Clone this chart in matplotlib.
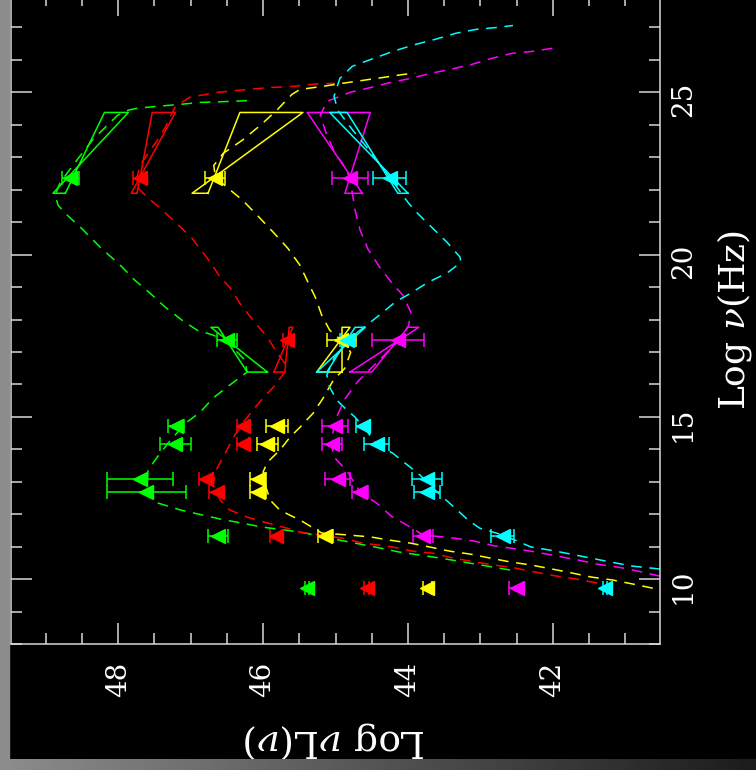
import numpy as np
import matplotlib.pyplot as plt
from matplotlib.patches import Rectangle
from matplotlib.ticker import MultipleLocator

plt.rcParams['font.family'] = 'DejaVu Serif'
plt.rcParams['mathtext.fontset'] = 'dejavuserif'

# observed points: log nu (Hz), log nuL(nu), error
obs_nu = [9.72, 11.34, 12.68, 13.08, 14.16, 14.71, 17.37, 22.37]

green_obs = [45.39, 46.62, 47.61, 47.70, 47.21, 47.20, 46.50, 48.66]
green_err = [0.03, 0.14, 0.54, 0.45, 0.21, 0.11, 0.14, 0.12]
red_obs = [44.57, 45.82, 46.64, 46.79, 46.28, 46.28, 45.67, 47.70]
red_err = [0.03, 0.08, 0.10, 0.10, 0.08, 0.08, 0.06, 0.09]
yellow_obs = [43.73, 45.14, 46.07, 46.07, 45.94, 45.81, 44.92, 46.66]
yellow_err = [0.06, 0.10, 0.11, 0.11, 0.14, 0.15, 0.20, 0.14]
magenta_obs = [42.50, 43.79, 44.66, 44.97, 45.05, 45.01, 44.14, 44.80]
magenta_err = [0.10, 0.14, 0.11, 0.17, 0.14, 0.18, 0.36, 0.25]
cyan_obs = [41.28, 42.69, 43.74, 43.74, 44.43, 44.62, 44.84, 44.25]
cyan_err = [0.03, 0.16, 0.18, 0.21, 0.17, 0.10, 0.10, 0.23]

# bow ties: [A at low nu, A at high nu, B at high nu, B at low nu]
xray_nu = [16.38, 17.76]
gamma_nu = [21.89, 24.38]
green_xray_bow = [45.94, 46.72, 46.62, 46.22]
red_xray_bow = [45.85, 45.59, 45.64, 45.70]
yellow_xray_bow = [44.91, 44.91, 44.80, 45.26]
magenta_xray_bow = [44.80, 43.85, 44.00, 44.50]
cyan_xray_bow = [45.26, 44.59, 44.73, 45.12]
green_gamma_bow = [48.73, 48.19, 47.86, 48.90]
red_gamma_bow = [47.74, 47.53, 47.21, 47.82]
yellow_gamma_bow = [46.76, 46.32, 45.45, 46.98]
magenta_gamma_bow = [44.63, 45.39, 44.52, 44.87]
cyan_gamma_bow = [44.00, 45.08, 44.84, 44.14]

# model curves
green_mod_nu = [10.28, 10.49, 10.65, 10.83, 10.96, 11.20, 11.45, 11.60, 11.85, 12.13, 12.37,
                12.80, 13.36, 13.76, 14.28, 14.84, 15.14, 15.58, 15.98, 16.38, 16.75, 17.27,
                17.52, 17.67, 17.98, 18.38, 18.81, 19.21, 19.67, 20.23, 20.84, 21.27, 21.52,
                21.83, 22.23, 22.97, 23.52, 23.92, 24.29, 24.45, 24.51, 24.57, 24.63, 24.69,
                24.72, 24.75]
green_mod_L = [42.59, 43.14, 43.56, 44.11, 44.39, 44.94, 45.49, 46.00, 46.59, 47.14, 47.49,
               47.60, 47.59, 47.46, 47.28, 47.05, 46.87, 46.69, 46.46, 46.22, 46.25, 46.48,
               46.69, 46.91, 47.12, 47.35, 47.56, 47.77, 47.97, 48.25, 48.52, 48.73, 48.83,
               48.87, 48.80, 48.55, 48.36, 48.18, 48.01, 47.86, 47.74, 47.46, 47.14, 46.87,
               46.46, 46.15]

red_mod_nu = [9.88, 10.00, 10.09, 10.22, 10.34, 10.43, 10.53, 10.65, 10.80, 10.86, 10.99,
              11.11, 11.26, 11.45, 11.57, 11.73, 11.91, 12.13, 12.43, 12.90, 13.30, 13.60,
              13.97, 14.37, 14.81, 15.21, 15.58, 15.91, 16.38, 16.59, 16.99, 17.45, 17.98,
              18.50, 18.99, 19.30, 19.89, 20.50, 21.00, 21.43, 21.77, 22.04, 22.29, 22.75,
              23.21, 23.52, 23.92, 24.57, 24.85, 25.00, 25.09, 25.15, 25.18, 25.25, 25.28]
red_mod_L = [41.39, 41.67, 41.94, 42.25, 42.52, 42.80, 43.08, 43.38, 43.66, 43.93, 44.21,
             44.62, 44.90, 45.49, 45.67, 45.94, 46.22, 46.46, 46.59, 46.69, 46.66, 46.59,
             46.50, 46.41, 46.28, 46.14, 46.00, 45.86, 45.70, 45.68, 45.81, 45.94, 46.14,
             46.32, 46.46, 46.59, 46.77, 46.98, 47.21, 47.42, 47.60, 47.72, 47.75, 47.70,
             47.56, 47.46, 47.35, 47.21, 47.01, 46.63, 46.21, 45.90, 45.60, 45.31, 45.01]

yellow_mod_nu = [9.72, 9.85, 9.97, 10.06, 10.19, 10.31, 10.43, 10.53, 10.65, 10.77, 10.86,
                 10.99, 11.11, 11.20, 11.30, 11.36, 11.42, 11.82, 11.97, 12.13, 12.43, 12.83,
                 13.30, 13.60, 13.97, 14.37, 14.68, 15.11, 15.58, 16.13, 16.50, 16.99, 17.36,
                 17.67, 18.13, 18.69, 19.15, 19.67, 20.20, 20.69, 21.21, 21.67, 22.04, 22.38,
                 22.75, 23.12, 23.52, 23.98, 24.45, 24.94, 25.09, 25.18, 25.28, 25.37, 25.46,
                 25.55, 25.59]
yellow_mod_L = [40.62, 40.90, 41.17, 41.46, 41.74, 42.01, 42.29, 42.59, 42.87, 43.14, 43.42,
                43.70, 43.97, 44.25, 44.52, 44.83, 45.19, 45.49, 45.63, 45.77, 45.90, 45.96,
                46.00, 45.94, 45.77, 45.63, 45.49, 45.31, 45.17, 45.03, 44.87, 44.79, 44.92,
                45.08, 45.19, 45.28, 45.38, 45.49, 45.66, 45.86, 46.08, 46.28, 46.48, 46.66,
                46.68, 46.55, 46.29, 46.04, 45.81, 45.60, 45.49, 45.19, 44.90, 44.62, 44.34,
                44.07, 43.90]

magenta_mod_nu = [10.09, 10.25, 10.37, 10.46, 10.59, 10.71, 10.83, 10.93, 11.02, 11.17, 11.26,
                  11.36, 11.63, 11.94, 12.34, 12.68, 13.33, 13.76, 14.16, 14.71, 15.02, 15.55,
                  16.07, 16.72, 17.36, 17.82, 18.22, 18.75, 19.12, 19.61, 20.16, 20.75, 21.37,
                  22.35, 22.69, 23.15, 23.68, 24.29, 24.72, 25.00, 25.15, 25.31, 25.43, 25.59,
                  25.71, 25.86, 26.05, 26.20, 26.26, 26.36]
magenta_mod_L = [40.52, 40.83, 41.10, 41.38, 41.66, 41.94, 42.22, 42.50, 42.80, 43.08, 43.35,
                 43.79, 43.99, 44.23, 44.43, 44.66, 44.84, 45.02, 45.06, 45.02, 44.98, 44.87,
                 44.70, 44.41, 44.12, 43.99, 43.96, 44.07, 44.22, 44.39, 44.55, 44.66, 44.73,
                 44.80, 44.87, 45.01, 45.12, 45.21, 45.12, 44.80, 44.51, 44.23, 43.96, 43.68,
                 43.41, 43.12, 42.84, 42.57, 42.29, 42.00]

cyan_mod_nu = [10.31, 10.40, 10.52, 10.65, 10.77, 10.89, 10.99, 11.36, 11.57, 11.82, 12.19,
               12.53, 12.90, 13.20, 13.45, 13.88, 14.16, 14.71, 14.99, 15.27, 15.51, 15.91,
               16.28, 16.81, 17.36, 17.67, 18.07, 18.53, 18.84, 19.15, 19.43, 19.76, 19.92,
               20.38, 20.84, 21.30, 21.61, 22.38, 23.12, 23.83, 24.45, 24.88, 25.43, 25.80,
               26.05, 26.29, 26.48, 26.63, 26.82, 26.94, 27.00, 27.06]
cyan_mod_L = [40.52, 40.90, 41.19, 41.48, 41.75, 42.03, 42.30, 42.69, 43.01, 43.17, 43.35,
              43.52, 43.70, 43.83, 43.97, 44.21, 44.43, 44.62, 44.73, 44.87, 44.98, 45.08,
              45.12, 45.02, 44.84, 44.66, 44.43, 44.18, 43.94, 43.72, 43.46, 43.27, 43.28,
              43.46, 43.67, 43.88, 44.00, 44.25, 44.50, 44.76, 44.97, 45.02, 44.94, 44.77,
              44.47, 44.17, 43.89, 43.63, 43.34, 43.06, 42.77, 42.55]

sources = [
    ('#00ff00', green_obs, green_err, green_xray_bow, green_gamma_bow, green_mod_nu, green_mod_L),
    ('#ff0000', red_obs, red_err, red_xray_bow, red_gamma_bow, red_mod_nu, red_mod_L),
    ('#ffff00', yellow_obs, yellow_err, yellow_xray_bow, yellow_gamma_bow, yellow_mod_nu, yellow_mod_L),
    ('#ff00ff', magenta_obs, magenta_err, magenta_xray_bow, magenta_gamma_bow, magenta_mod_nu, magenta_mod_L),
    ('#00ffff', cyan_obs, cyan_err, cyan_xray_bow, cyan_gamma_bow, cyan_mod_nu, cyan_mod_L),
]

fig = plt.figure(figsize=(7.56, 7.70), dpi=100, facecolor='black')
ax = fig.add_axes([11/756, 126/770, 649/756, 649/770])
ax.set_facecolor('black')

# the plot is turned on its side: log nuL runs right to left, log nu runs upward
for col, obs, err, xbow, gbow, mnu, mL in sources:
    ax.plot(mL, mnu, color=col, lw=1.1, ls=(0, (7, 5)))
    for bnu, bow in ((xray_nu, xbow), (gamma_nu, gbow)):
        ax.plot([bow[0], bow[1], bow[2], bow[3], bow[0]],
                [bnu[0], bnu[1], bnu[1], bnu[0], bnu[0]], color=col, lw=1.1)
    ax.errorbar(obs, obs_nu, xerr=err, fmt='<', color=col, ms=10, capsize=5,
                elinewidth=1.1, capthick=1.1)

ax.set_xlim(49.48, 40.52)
ax.set_ylim(8, 28)
ax.xaxis.set_major_locator(MultipleLocator(2))
ax.xaxis.set_minor_locator(MultipleLocator(0.5))
ax.yaxis.set_major_locator(MultipleLocator(5))
ax.yaxis.set_minor_locator(MultipleLocator(1))

tick_col = '#d8d8d8'
for s in ax.spines.values():
    s.set_color(tick_col)
    s.set_linewidth(1.1)
ax.tick_params(which='both', direction='in', top=True, bottom=True, left=True, right=True,
               labelleft=False, labelright=True, color=tick_col, width=1.1,
               labelcolor='white', labelsize=20)
ax.tick_params(which='major', length=15)
ax.tick_params(which='minor', length=8)
ax.tick_params(axis='x', labelrotation=90, pad=13)
ax.tick_params(axis='y', labelrotation=90, pad=7)

fig.text(335/756, (770-730)/770, r'Log $\nu$L($\nu$)', rotation=180, rotation_mode='anchor',
         ha='center', va='baseline', fontsize=27, color='white')
fig.text(744/756, (770-320)/770, r'Log $\nu$(Hz)', rotation=90, rotation_mode='anchor',
         ha='center', va='baseline', fontsize=26, color='white')

# grey frame of the screenshot
fig.patches.append(Rectangle((0, 0), 9/756, 1, transform=fig.transFigure,
                             color='#8c8c8c', zorder=10))
bar = fig.add_axes([0, 0, 1, 11/770])
bar.set_zorder(5)
bar.imshow(np.linspace(0.55, 0.11, 256)[None, :], cmap='gray', vmin=0, vmax=1,
           aspect='auto')
bar.axis('off')

fig.savefig('out.png', dpi=100, facecolor='black')
